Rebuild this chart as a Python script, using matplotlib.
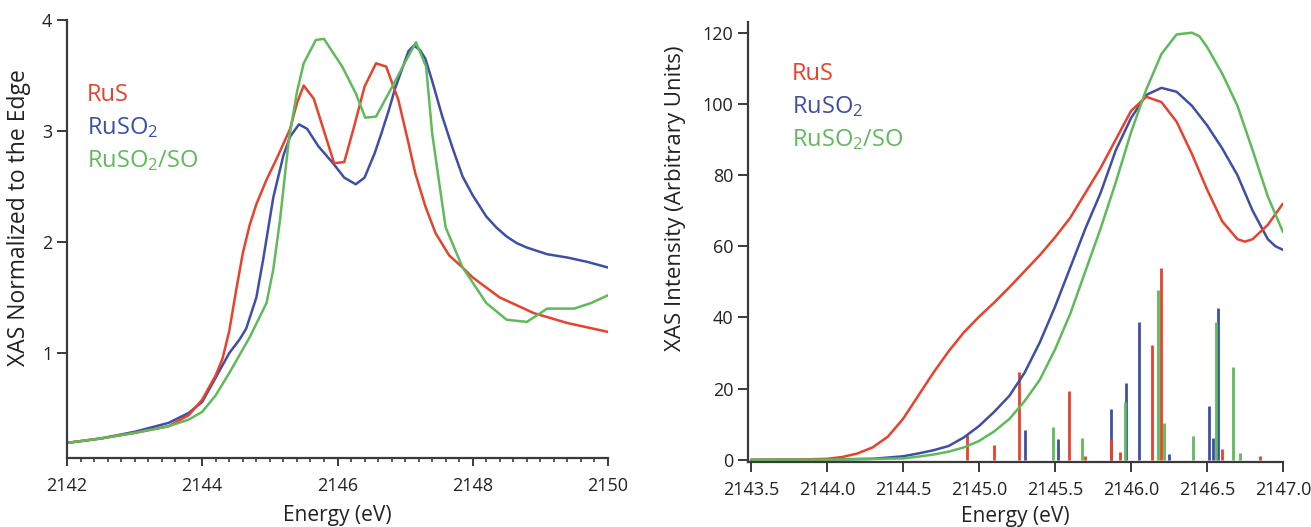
import matplotlib
matplotlib.use("Agg")
import matplotlib.pyplot as plt
from matplotlib.ticker import MultipleLocator

plt.rcParams['font.family'] = ['Open Sans', 'DejaVu Sans']
plt.rcParams['mathtext.fontset'] = 'custom'
plt.rcParams['mathtext.rm'] = 'Open Sans'
plt.rcParams['mathtext.it'] = 'Open Sans:italic'
plt.rcParams['mathtext.bf'] = 'Open Sans:bold'

RED = '#e8412c'
BLUE = '#3f4ea6'
GREEN = '#5fba5a'
AX = '#3a3a3a'
TXT = '#222222'

series_labels = ['RuS', 'RuSO$_\\mathregular{2}$', 'RuSO$_\\mathregular{2}$/SO']

# ---- Left panel: normalized XAS ----
left_red_e = [2142, 2142.5, 2143, 2143.5, 2143.8, 2144, 2144.2, 2144.3, 2144.4, 2144.5,
              2144.6, 2144.7, 2144.8, 2144.95, 2145.1, 2145.3, 2145.4, 2145.5, 2145.65,
              2145.8, 2145.95, 2146.1, 2146.25, 2146.4, 2146.57, 2146.72, 2146.9, 2147.05,
              2147.15, 2147.3, 2147.45, 2147.65, 2147.85, 2148.0, 2148.4, 2148.9, 2149.4, 2150]
left_red_v = [0.19, 0.23, 0.28, 0.34, 0.44, 0.58, 0.80, 0.95, 1.20, 1.56,
              1.90, 2.15, 2.34, 2.56, 2.75, 3.02, 3.25, 3.41, 3.29,
              3.00, 2.71, 2.72, 3.05, 3.40, 3.61, 3.58, 3.28, 2.89,
              2.62, 2.32, 2.08, 1.88, 1.77, 1.68, 1.50, 1.36, 1.27, 1.19]

left_blue_e = [2142, 2142.5, 2143, 2143.5, 2143.8, 2144, 2144.2, 2144.4, 2144.55, 2144.65,
               2144.8, 2144.9, 2145.05, 2145.2, 2145.3, 2145.43, 2145.55, 2145.72, 2145.92,
               2146.1, 2146.27, 2146.4, 2146.55, 2146.65, 2146.76, 2146.85, 2146.95, 2147.05,
               2147.13, 2147.22, 2147.3, 2147.4, 2147.55, 2147.7, 2147.85, 2148.0, 2148.2,
               2148.35, 2148.5, 2148.65, 2148.8, 2149.1, 2149.4, 2149.7, 2150]
left_blue_v = [0.19, 0.23, 0.29, 0.37, 0.46, 0.56, 0.78, 1.00, 1.12, 1.22,
               1.50, 1.84, 2.40, 2.78, 2.95, 3.06, 3.02, 2.86, 2.72,
               2.58, 2.52, 2.58, 2.80, 2.98, 3.19, 3.38, 3.55, 3.72,
               3.77, 3.73, 3.65, 3.45, 3.13, 2.85, 2.59, 2.42, 2.23,
               2.13, 2.05, 1.99, 1.95, 1.89, 1.86, 1.82, 1.77]

left_green_e = [2142, 2142.5, 2143, 2143.5, 2143.8, 2144, 2144.2, 2144.4, 2144.7, 2144.95,
                2145.05, 2145.15, 2145.28, 2145.4, 2145.5, 2145.68, 2145.8, 2146.07, 2146.27,
                2146.41, 2146.57, 2146.81, 2147.0, 2147.16, 2147.31, 2147.4, 2147.5, 2147.6,
                2147.85, 2147.95, 2148.2, 2148.5, 2148.8, 2149.0, 2149.1, 2149.5, 2149.75, 2150]
left_green_v = [0.19, 0.23, 0.28, 0.34, 0.40, 0.47, 0.62, 0.82, 1.14, 1.45,
                1.75, 2.20, 2.92, 3.35, 3.61, 3.82, 3.83, 3.58, 3.34,
                3.12, 3.13, 3.40, 3.62, 3.80, 3.58, 2.98, 2.55, 2.13,
                1.77, 1.68, 1.45, 1.30, 1.28, 1.36, 1.40, 1.40, 1.45, 1.52]

left_xticks = [2142, 2144, 2146, 2148, 2150]
left_yticks = [1, 2, 3, 4]

# ---- Right panel: calculated spectra ----
right_red_e = [2143.5, 2143.8, 2144.0, 2144.1, 2144.2, 2144.3, 2144.4, 2144.5, 2144.6, 2144.7,
               2144.8, 2144.9, 2145.0, 2145.1, 2145.2, 2145.3, 2145.4, 2145.5, 2145.6, 2145.7,
               2145.8, 2145.9, 2146.0, 2146.1, 2146.2, 2146.3, 2146.4, 2146.5, 2146.6, 2146.7,
               2146.75, 2146.8, 2146.9, 2147.0]
right_red_v = [0, 0.05, 0.3, 0.8, 1.8, 3.5, 6.5, 11.5, 18, 24.5,
               30.5, 35.8, 40.2, 44.2, 48.5, 53, 57.5, 62.5, 68, 75,
               82, 90, 98, 102, 100.5, 95, 86, 76, 67, 62,
               61.3, 62, 66, 72]

right_blue_e = [2143.5, 2144.0, 2144.3, 2144.5, 2144.6, 2144.7, 2144.8, 2144.9, 2145.0, 2145.1,
                2145.2, 2145.3, 2145.4, 2145.5, 2145.6, 2145.7, 2145.8, 2145.9, 2146.0, 2146.1,
                2146.2, 2146.3, 2146.4, 2146.5, 2146.6, 2146.7, 2146.8, 2146.9, 2146.95, 2147.0]
right_blue_v = [0, 0.1, 0.3, 1.0, 1.8, 2.7, 3.9, 6.3, 9.5, 13.5,
                18, 24.5, 33, 43, 54, 65, 75, 87, 96, 102.5,
                104.5, 103.4, 99.5, 94, 87.5, 80, 70, 62, 60, 59]

right_green_e = [2143.5, 2144.0, 2144.5, 2144.6, 2144.7, 2144.8, 2144.9, 2145.0, 2145.1, 2145.2,
                 2145.3, 2145.4, 2145.5, 2145.6, 2145.7, 2145.8, 2145.9, 2146.0, 2146.1, 2146.2,
                 2146.3, 2146.4, 2146.45, 2146.5, 2146.6, 2146.7, 2146.8, 2146.9, 2147.0]
right_green_v = [0, 0.05, 0.4, 0.9, 1.5, 2.3, 3.5, 5.3, 8, 11.5,
                 16.5, 22.5, 31, 41, 53, 65, 78, 92, 104, 114,
                 119.5, 120, 119, 116, 108.5, 99.5, 87, 74, 64]

stick_red_e = [2144.92, 2145.10, 2145.26, 2145.59, 2145.70, 2145.87, 2145.93, 2146.14, 2146.20, 2146.60, 2146.85]
stick_red_h = [7.1, 4.2, 24.8, 19.4, 1.0, 6.0, 2.3, 32.3, 53.9, 3.0, 1.2]
stick_blue_e = [2145.30, 2145.52, 2145.87, 2145.97, 2146.05, 2146.25, 2146.51, 2146.54, 2146.57]
stick_blue_h = [8.4, 6.0, 14.2, 21.7, 38.6, 1.7, 15.0, 6.1, 42.6]
stick_green_e = [2145.49, 2145.68, 2145.96, 2146.18, 2146.22, 2146.41, 2146.56, 2146.67, 2146.72]
stick_green_h = [9.3, 6.1, 16.3, 47.8, 10.3, 6.7, 38.7, 26.0, 1.9]

right_xticks = [2143.5, 2144.0, 2144.5, 2145.0, 2145.5, 2146.0, 2146.5, 2147.0]
right_yticks = [0, 20, 40, 60, 80, 100, 120]

fig = plt.figure(figsize=(13.11, 5.27), dpi=100)
axL = fig.add_axes([67 / 1311, 1 - 458 / 527, 541 / 1311, 438 / 527])
axR = fig.add_axes([748 / 1311, 1 - 462 / 527, 535 / 1311, 440 / 527])


def style(ax):
    for s in ['top', 'right']:
        ax.spines[s].set_visible(False)
    for s in ['left', 'bottom']:
        ax.spines[s].set_color(AX)
        ax.spines[s].set_linewidth(1.6)
    ax.tick_params(axis='both', which='major', direction='out', color=AX,
                   width=1.4, labelsize=13, labelcolor=TXT)
    ax.tick_params(axis='y', which='major', length=7.5, pad=3)
    ax.tick_params(axis='x', which='minor', direction='out', length=3, width=1.2, color=AX)


LW = 1.8
kw = dict(lw=LW, solid_joinstyle='round', solid_capstyle='round')
axL.plot(left_blue_e, left_blue_v, color=BLUE, **kw)
axL.plot(left_red_e, left_red_v, color=RED, **kw)
axL.plot(left_green_e, left_green_v, color=GREEN, **kw)
axL.set_xlim(2142, 2150)
axL.set_ylim(0.054, 4.0)
axL.set_xticks(left_xticks)
axL.set_xticklabels([str(t) for t in left_xticks])
axL.xaxis.set_minor_locator(MultipleLocator(0.2))
axL.set_yticks(left_yticks)
axL.set_yticklabels([str(t) for t in left_yticks])
style(axL)
axL.tick_params(axis='x', which='major', length=6, pad=8)
axL.set_xlabel('Energy (eV)', fontsize=15, color=TXT, labelpad=7)
axL.set_ylabel('XAS Normalized to the Edge', fontsize=16.5, color=TXT, labelpad=6)
axL.yaxis.set_label_coords(-0.066, 0.55)

colors = [RED, BLUE, GREEN]
for i, (lab, c) in enumerate(zip(series_labels, colors)):
    fig.text(87 / 1311, 1 - (101 + 33 * i) / 527, lab,
             color=c, fontsize=17, ha='left', va='baseline')
    fig.text(792 / 1311, 1 - (80 + 33 * i) / 527, lab,
             color=c, fontsize=17, ha='left', va='baseline')

# right panel
axR.vlines(stick_blue_e, 0, stick_blue_h, color=BLUE, lw=2.0)
axR.vlines(stick_green_e, 0, stick_green_h, color=GREEN, lw=2.0)
axR.vlines(stick_red_e, 0, stick_red_h, color=RED, lw=2.0)
axR.plot(right_blue_e, right_blue_v, color=BLUE, **kw)
axR.plot(right_red_e, right_red_v, color=RED, **kw)
axR.plot(right_green_e, right_green_v, color=GREEN, **kw)
axR.set_xlim(2143.48, 2147.0)
axR.set_ylim(-0.6, 123)
axR.set_xticks(right_xticks)
axR.set_xticklabels(['%.1f' % t for t in right_xticks])
axR.set_yticks(right_yticks)
axR.set_yticklabels([str(t) for t in right_yticks])
style(axR)
axR.tick_params(axis='x', which='major', length=7.5, pad=6)
axR.set_xlabel('Energy (eV)', fontsize=15, color=TXT, labelpad=5)
axR.set_ylabel('XAS Intensity (Arbitrary Units)', fontsize=16, color=TXT, labelpad=4)
axR.yaxis.set_label_coords(-0.115, 0.60)

fig.savefig('out.png', dpi=100, facecolor='white')
